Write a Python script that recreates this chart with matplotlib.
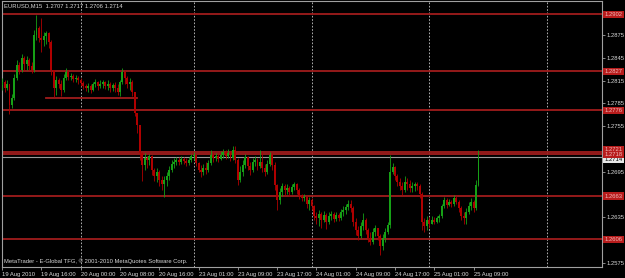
import numpy as np
import matplotlib.pyplot as plt
import matplotlib.transforms as mtransforms

# EURUSD half-hour bars, prices in 1/10000
first_open = 12809
close = [12813, 12805, 12811, 12783, 12792, 12818, 12836, 12829, 12845, 12837,
         12842, 12834, 12829, 12875, 12884, 12871, 12868, 12874, 12878, 12866,
         12829, 12805, 12816, 12811, 12803, 12818, 12826, 12820, 12821, 12817,
         12818, 12816, 12812, 12808, 12805, 12808, 12803, 12811, 12813, 12808,
         12811, 12813, 12808, 12811, 12805, 12809, 12805, 12800, 12813, 12826,
         12818, 12811, 12813, 12800, 12772, 12757, 12720, 12704, 12713, 12710,
         12716, 12697, 12689, 12695, 12684, 12679, 12684, 12689, 12697, 12705,
         12708, 12710, 12708, 12712, 12709, 12707, 12710, 12716, 12717, 12707,
         12697, 12695, 12700, 12697, 12707, 12717, 12713, 12716, 12712, 12717,
         12721, 12716, 12720, 12713, 12724, 12710, 12684, 12695, 12704, 12714,
         12703, 12697, 12708, 12710, 12703, 12708, 12700, 12695, 12705, 12717,
         12704, 12678, 12658, 12668, 12676, 12671, 12674, 12668, 12675, 12679,
         12671, 12663, 12661, 12662, 12653, 12658, 12650, 12637, 12634, 12639,
         12632, 12638, 12629, 12637, 12639, 12633, 12638, 12634, 12642, 12645,
         12649, 12653, 12647, 12629, 12618, 12610, 12624, 12632, 12618, 12608,
         12603, 12616, 12621, 12610, 12597, 12608, 12616, 12625, 12695, 12701,
         12689, 12682, 12676, 12671, 12682, 12679, 12674, 12676, 12679, 12676,
         12666, 12629, 12624, 12632, 12626, 12632, 12629, 12634, 12637, 12650,
         12658, 12651, 12655, 12653, 12661, 12655, 12647, 12637, 12634, 12642,
         12650, 12655, 12647, 12678, 12714]
high = [12818, 12816, 12816, 12811, 12797, 12824, 12842, 12839, 12850, 12847,
        12847, 12845, 12839, 12882, 12901, 12887, 12897, 12879, 12880, 12879,
        12868, 12829, 12821, 12818, 12816, 12824, 12832, 12829, 12825, 12824,
        12822, 12821, 12818, 12814, 12811, 12812, 12811, 12813, 12817, 12814,
        12816, 12816, 12814, 12816, 12813, 12812, 12813, 12811, 12816, 12832,
        12829, 12821, 12818, 12816, 12800, 12771, 12757, 12721, 12720, 12716,
        12718, 12717, 12700, 12700, 12697, 12689, 12689, 12695, 12703, 12710,
        12713, 12714, 12714, 12716, 12714, 12713, 12714, 12718, 12721, 12717,
        12708, 12704, 12705, 12708, 12710, 12724, 12721, 12720, 12718, 12722,
        12725, 12724, 12725, 12722, 12729, 12729, 12713, 12703, 12710, 12718,
        12716, 12708, 12713, 12716, 12713, 12724, 12721, 12705, 12710, 12721,
        12720, 12708, 12679, 12674, 12680, 12679, 12679, 12676, 12679, 12682,
        12680, 12674, 12666, 12666, 12663, 12662, 12661, 12651, 12642, 12645,
        12642, 12643, 12641, 12642, 12643, 12642, 12642, 12641, 12646, 12650,
        12653, 12658, 12658, 12650, 12634, 12624, 12629, 12641, 12634, 12621,
        12616, 12621, 12625, 12621, 12613, 12613, 12621, 12629, 12717, 12707,
        12703, 12692, 12687, 12682, 12689, 12687, 12684, 12682, 12682, 12682,
        12679, 12668, 12634, 12637, 12635, 12637, 12635, 12637, 12639, 12653,
        12662, 12661, 12659, 12658, 12665, 12663, 12658, 12650, 12642, 12647,
        12655, 12661, 12658, 12684, 12724]
low = [12803, 12800, 12803, 12771, 12779, 12789, 12816, 12824, 12826, 12829,
       12829, 12829, 12825, 12826, 12868, 12866, 12853, 12861, 12863, 12858,
       12822, 12793, 12796, 12805, 12795, 12800, 12816, 12816, 12816, 12813,
       12813, 12811, 12808, 12804, 12801, 12800, 12799, 12801, 12807, 12803,
       12805, 12805, 12804, 12803, 12800, 12801, 12800, 12796, 12795, 12811,
       12811, 12805, 12803, 12795, 12768, 12746, 12710, 12683, 12697, 12700,
       12704, 12691, 12683, 12682, 12676, 12671, 12662, 12676, 12684, 12695,
       12700, 12704, 12704, 12705, 12705, 12703, 12704, 12708, 12710, 12703,
       12695, 12688, 12691, 12692, 12695, 12704, 12708, 12709, 12708, 12710,
       12713, 12712, 12713, 12709, 12710, 12707, 12678, 12682, 12689, 12700,
       12697, 12691, 12695, 12703, 12697, 12700, 12695, 12689, 12692, 12703,
       12697, 12671, 12645, 12653, 12663, 12665, 12666, 12663, 12666, 12671,
       12666, 12659, 12657, 12657, 12647, 12645, 12645, 12632, 12626, 12624,
       12621, 12629, 12620, 12626, 12632, 12629, 12630, 12630, 12632, 12637,
       12639, 12645, 12642, 12624, 12612, 12605, 12608, 12618, 12613, 12603,
       12599, 12600, 12610, 12605, 12585, 12592, 12603, 12613, 12621, 12692,
       12684, 12676, 12671, 12665, 12668, 12671, 12668, 12668, 12670, 12671,
       12661, 12618, 12616, 12618, 12621, 12626, 12626, 12628, 12629, 12634,
       12647, 12647, 12650, 12649, 12650, 12653, 12642, 12632, 12626, 12626,
       12639, 12645, 12642, 12645, 12676]

time_ticks = [0, 16, 32, 48, 64, 80, 96, 112, 128, 144, 160, 176, 192]
time_labels = ['19 Aug 2010', '19 Aug 16:00', '20 Aug 00:00', '20 Aug 08:00',
               '20 Aug 16:00', '23 Aug 01:00', '23 Aug 09:00', '23 Aug 17:00',
               '24 Aug 01:00', '24 Aug 09:00', '24 Aug 17:00', '25 Aug 01:00',
               '25 Aug 09:00']
day_breaks = [32, 78, 126, 174, 222]
# the 1.2725 / 1.2665 / 1.2605 labels are hidden behind the line tags
price_ticks = [1.2575, 1.2635, 1.2695, 1.2755, 1.2785, 1.2815, 1.2845, 1.2875]
hlines = [1.2902, 1.2827, 1.2776, 1.2721, 1.2718, 1.2663, 1.2606]
trend = ([18, 55], [1.2792, 1.2792])
bid = 1.2714
title = 'EURUSD,M15  1.2707 1.2717 1.2706 1.2714'
footer = 'MetaTrader - E-Global TFG, \u00a9 2001-2010 MetaQuotes Software Corp.'

GREEN = '#16a016'
RED = '#b00000'
LINE_RED = '#a01c1c'
FG = '#d8d8d8'

plt.rcParams['font.family'] = ['Liberation Sans', 'DejaVu Sans']
fs = 4.2

c = np.array(close) / 1e4
h = np.array(high) / 1e4
l = np.array(low) / 1e4
o = np.r_[first_open, close[:-1]] / 1e4
idx = np.arange(len(c))
colors = np.where(c >= o, GREEN, RED)

fig = plt.figure(figsize=(6.25, 2.78), dpi=100, facecolor='black')
ax = fig.add_axes([2 / 625, 11 / 278, 600 / 625, 266 / 278], facecolor='black')

for x in day_breaks:
    ax.axvline(x, color='#c8c8c8', lw=0.6, ls=(0, (2, 2)), zorder=1)
for p in hlines:
    ax.axhline(p, color=LINE_RED, lw=1.3, zorder=2)
ax.plot(*trend, color=LINE_RED, lw=1.3, zorder=2)
ax.axhline(bid, color='#9a9a9a', lw=0.8, zorder=2)

ax.vlines(idx, l, h, colors=colors, lw=0.6, zorder=3)
ax.bar(idx, np.maximum(np.abs(c - o), 0.00004), bottom=np.minimum(o, c),
       width=0.8, color=colors, linewidth=0, zorder=4)

ax.set_xlim(-0.05, 244.3)
ax.set_ylim(1.25697, 1.29197)

ax.set_xticks(time_ticks)
ax.set_xticklabels(time_labels, ha='left')
ax.yaxis.tick_right()
ax.set_yticks(price_ticks)
ax.set_yticklabels([f'{p:.4f}' for p in price_ticks])
ax.tick_params(colors='#a0a0a0', labelcolor=FG, labelsize=fs, length=2,
               width=0.6, pad=1.5)
for s in ax.spines.values():
    s.set_color('#a0a0a0')
    s.set_linewidth(0.8)

tr = mtransforms.blended_transform_factory(ax.transAxes, ax.transData)
box = dict(boxstyle='square,pad=0.2', ec='none')
ax.text(1.004, bid, f'{bid:.4f}', transform=tr, fontsize=fs, color='black',
        va='top', ha='left', clip_on=False, zorder=10,
        bbox=dict(box, fc='#e8e8e8'))
for p in hlines:
    va = 'center'
    if p == 1.2721:
        va = 'bottom'
    ax.text(1.004, p, f'{p:.4f}', transform=tr, fontsize=fs, color='#f0b8b8',
            va=va, ha='left', clip_on=False, zorder=11,
            bbox=dict(box, fc='#b81c1c'))

ax.text(0.003, 0.99, title, transform=ax.transAxes, fontsize=fs, color=FG,
        va='top', ha='left', zorder=12)
ax.text(0.003, 0.012, footer, transform=ax.transAxes, fontsize=fs, color=FG,
        va='bottom', ha='left', zorder=12)

fig.savefig('out.png', dpi=100, facecolor='black')
